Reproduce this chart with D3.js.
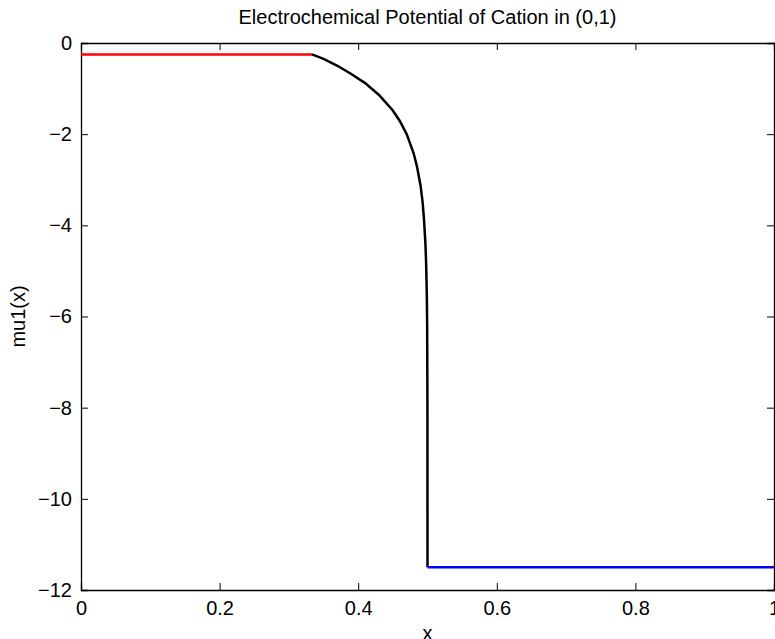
<!DOCTYPE html>
<html>
<meta charset="utf-8">
<head>
<script src="https://cdn.jsdelivr.net/npm/d3@7"></script>
<style>
  body { margin: 0; background: #fff; }
  text { font-family: "Liberation Sans", Arial, Helvetica, sans-serif; fill: #000; }
</style>
</head>
<body>
<div id="chart"></div>
<script>
// data
var xTicks = [0, 0.2, 0.4, 0.6, 0.8, 1];
var yTicks = [0, -2, -4, -6, -8, -10, -12];

// red piece, x in (0, 1/3)
var redX = [0, 0.3333];
var redY = [-0.25, -0.25];

// black piece, x in (1/3, 1/2)
var blackX = [0.3333, 0.35, 0.37, 0.39, 0.41, 0.43, 0.45, 0.46, 0.47, 0.48, 0.485, 0.49, 0.493, 0.495, 0.497, 0.498, 0.499, 0.4995, 0.4999, 0.5];
var blackY = [-0.25, -0.35, -0.50, -0.68, -0.88, -1.14, -1.48, -1.71, -2.0, -2.42, -2.72, -3.13, -3.5, -3.88, -4.4, -4.82, -5.52, -6.2, -7.9, -11.5];

// blue piece, x in (1/2, 1)
var blueX = [0.5, 1];
var blueY = [-11.5, -11.5];

var W = 775, H = 639;
var margin = {top: 43, right: 1, bottom: 49, left: 81};
var width = W - margin.left - margin.right,
    height = H - margin.top - margin.bottom;

var svg = d3.select("#chart").append("svg")
    .attr("width", W)
    .attr("height", H);

var g = svg.append("g")
    .attr("transform", "translate(" + margin.left + "," + margin.top + ")");

var x = d3.scaleLinear().domain([0, 1]).range([0, width]);
var y = d3.scaleLinear().domain([-12, 0]).range([height, 0]);

var fmt = function(d) { return d3.format("")(d).replace("-", "\u2212"); };

// axes: MATLAB-style box with ticks pointing in
var ax = [
  {call: d3.axisBottom(x).tickValues(xTicks).tickSize(-7).tickPadding(11).tickFormat(fmt), tr: "translate(0," + height + ")"},
  {call: d3.axisTop(x).tickValues(xTicks).tickSize(-7).tickFormat(""), tr: "translate(0,0)"},
  {call: d3.axisLeft(y).tickValues(yTicks).tickSize(-7).tickPadding(9).tickFormat(fmt), tr: "translate(0,0)"},
  {call: d3.axisRight(y).tickValues(yTicks).tickSize(-7).tickFormat(""), tr: "translate(" + width + ",0)"}
];
ax.forEach(function(a) {
  var s = g.append("g").attr("transform", a.tr).call(a.call);
  s.select(".domain").attr("stroke", "#000").attr("stroke-width", 1.3);
  s.selectAll(".tick line").attr("stroke", "#000").attr("stroke-width", 1);
  s.selectAll("text").style("font-size", "20px").attr("fill", "#000");
});

var line = d3.line()
    .x(function(d) { return x(d[0]); })
    .y(function(d) { return y(d[1]); });

var pieces = [
  {xs: redX, ys: redY, c: "#ff0000"},
  {xs: blackX, ys: blackY, c: "#000000"},
  {xs: blueX, ys: blueY, c: "#0000ff"}
];
pieces.forEach(function(p) {
  g.append("path")
    .datum(p.xs.map(function(v, i) { return [v, p.ys[i]]; }))
    .attr("fill", "none")
    .attr("stroke", p.c)
    .attr("stroke-width", 2.5)
    .attr("d", line);
});

// title and labels
svg.append("text")
    .attr("x", margin.left + width / 2)
    .attr("y", 24)
    .attr("text-anchor", "middle")
    .style("font-size", "20px")
    .text("Electrochemical Potential of Cation in (0,1)");

svg.append("text")
    .attr("x", margin.left + width / 2)
    .attr("y", 640)
    .attr("text-anchor", "middle")
    .style("font-size", "20px")
    .text("x");

svg.append("text")
    .attr("transform", "translate(25," + (margin.top + height / 2) + ") rotate(-90)")
    .attr("text-anchor", "middle")
    .style("font-size", "20px")
    .text("mu1(x)");
</script>
</body>
</html>
